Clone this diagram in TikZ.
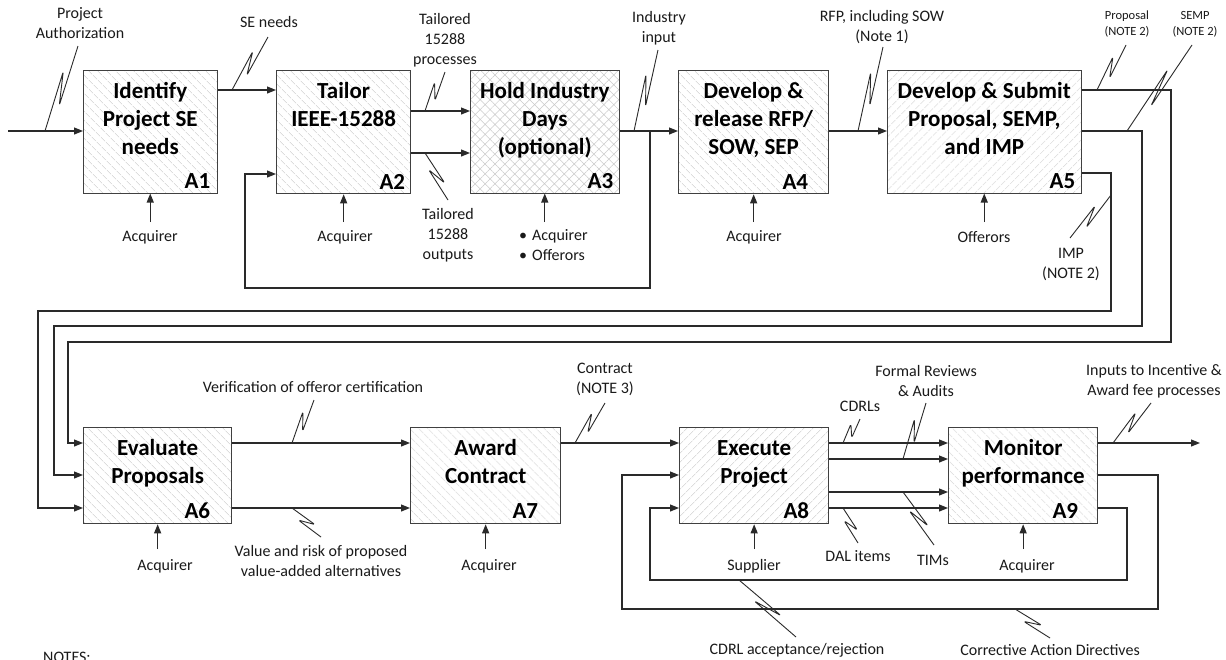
\documentclass[tikz,border=0pt]{standalone}
\usepackage{fontspec}
\setmainfont{Carlito}
\usetikzlibrary{calc,patterns.meta,arrows.meta}
\definecolor{ln}{HTML}{2A2A2A}
\definecolor{bdr}{HTML}{404040}
\definecolor{htc}{HTML}{CACACA}
\definecolor{txt}{HTML}{1A1A1A}
\newcommand\ttlfont{\fontsize{23}{28}\selectfont\bfseries}
\newcommand\lblfont{\fontsize{16}{20}\selectfont}
\newcommand\smlfont{\fontsize{12.5}{16}\selectfont}
\newcommand\leader[2]{\draw[ldr] (#1) -- ($(#1)!0.68!(#2)!4.5pt!90:(#2)$) -- ($(#1)!0.32!(#2)!4pt!-90:(#2)$) -- (#2);}
\tikzset{
 box/.style={draw=bdr, line width=1.3pt, inner sep=0pt, anchor=north west},
 hbs/.style={pattern={Lines[angle=-45,distance=6.5pt,line width=0.5pt]}, pattern color=htc},
 hfs/.style={pattern={Lines[angle=45,distance=6.5pt,line width=0.5pt]}, pattern color=htc},
 hx/.style={pattern={Hatch[angle=45,distance=7pt,line width=0.5pt]}, pattern color=htc},
 ttl/.style={font=\ttlfont, text=black, align=center, inner sep=0pt, anchor=north},
 num/.style={font=\ttlfont, text=black, inner sep=0pt, anchor=base east},
 lbl/.style={font=\lblfont, text=txt, align=center, inner sep=0pt},
 sml/.style={font=\smlfont, text=txt, align=center, inner sep=0pt},
 arr/.style={draw=ln, line width=1.1pt, -{Triangle[length=9pt,width=7pt]}},
 ldr/.style={draw=ln, line width=0.9pt, line join=round, rounded corners=1.5pt},
}
\begin{document}
\begin{tikzpicture}[x=1pt,y=-1pt]
\useasboundingbox[fill=white] (0,0) rectangle (1226,659);
% ---------- boxes
\node[box,hbs,minimum width=134pt,minimum height=123pt] (A1) at (83,70) {};
\node[box,hbs,minimum width=134pt,minimum height=123pt] (A2) at (276,70) {};
\node[box,hx, minimum width=149pt,minimum height=123pt] (A3) at (470,70) {};
\node[box,hbs,minimum width=150pt,minimum height=123pt] (A4) at (678,70) {};
\node[box,hfs,minimum width=194pt,minimum height=123pt] (A5) at (887,70) {};
\node[box,hbs,minimum width=148pt,minimum height=96pt] (A6) at (83,427) {};
\node[box,hbs,minimum width=150pt,minimum height=96pt] (A7) at (410,427) {};
\node[box,hfs,minimum width=149pt,minimum height=96pt] (A8) at (679,427) {};
\node[box,hbs,minimum width=149pt,minimum height=96pt] (A9) at (948,427) {};
% ---------- titles
\node[ttl] (t1) at ($(A1.north)+(0,8.4)$) {\strut Identify\\Project SE\\needs};
\node[ttl] (t2) at ($(A2.north)+(0,8.4)$) {\strut Tailor\\IEEE-15288};
\node[ttl] (t3) at ($(A3.north)+(0,8.4)$) {\strut Hold Industry\\Days\\(optional)};
\node[ttl] (t4) at ($(A4.north)+(0,8.4)$) {\strut Develop \&\\release RFP/\\SOW, SEP};
\node[ttl] (t5) at ($(A5.north)+(0,8.4)$) {\strut Develop \& Submit\\Proposal, SEMP,\\and IMP};
\node[ttl] (t6) at ($(A6.north)+(0,8.4)$) {\strut Evaluate\\Proposals};
\node[ttl] (t7) at ($(A7.north)+(0,8.4)$) {\strut Award\\Contract};
\node[ttl] (t8) at ($(A8.north)+(0,8.4)$) {\strut Execute\\Project};
\node[ttl] (t9) at ($(A9.north)+(0,8.4)$) {\strut Monitor\\performance};
% ---------- numbers
\node[num] (n1) at ($(A1.south east)+(-7,-5)$) {A1};
\node[num] (n2) at ($(A2.south east)+(-6,-5)$) {A2};
\node[num] (n3) at ($(A3.south east)+(-6,-5)$) {A3};
\node[num] (n4) at ($(A4.south east)+(-21,-5)$) {A4};
\node[num] (n5) at ($(A5.south east)+(-6,-5)$) {A5};
\node[num] (n6) at ($(A6.south east)+(-22,-6)$) {A6};
\node[num] (n7) at ($(A7.south east)+(-23,-6)$) {A7};
\node[num] (n8) at ($(A8.south east)+(-20,-6)$) {A8};
\node[num] (n9) at ($(A9.south east)+(-20,-6)$) {A9};
% ---------- mechanisms
\node[lbl] (c1) at (150,237) {Acquirer};
\node[lbl] (c2) at (345,237) {Acquirer};
\node[lbl,align=left,anchor=west] (c3) at (519,245) {\textbullet\hspace{5pt}Acquirer\\\textbullet\hspace{5pt}Offerors};
\node[lbl] (c4) at (754,237) {Acquirer};
\node[lbl] (c5) at (984,237) {Offerors};
\node[lbl] (c6) at (165,566) {Acquirer};
\node[lbl] (c7) at (489,566) {Acquirer};
\node[lbl] (c8) at (754,566) {Supplier};
\node[lbl] (c9) at (1027,566) {Acquirer};
\draw[arr] (A1.south |- 0,222) -- (A1.south);
\draw[arr] (A2.south |- 0,222) -- (A2.south);
\draw[arr] (A3.south |- 0,222) -- (A3.south);
\draw[arr] (A4.south |- 0,222) -- (A4.south);
\draw[arr] (A5.south |- 0,222) -- (A5.south);
\draw[arr] (A6.south |- 0,549) -- (A6.south);
\draw[arr] (A7.south |- 0,549) -- (A7.south);
\draw[arr] (A8.south |- 0,549) -- (A8.south);
\draw[arr] (A9.south |- 0,549) -- (A9.south);
% ---------- flows, top row
\coordinate (in0) at (8,131);
\draw[arr] (in0) -- (A1.west |- in0);
\draw[arr] (A1.east |- 0,90) -- (A2.west |- 0,90);
\draw[arr] (A2.east |- 0,111) -- (A3.west |- 0,111);
\draw[arr] (A2.east |- 0,153) -- (A3.west |- 0,153);
\draw[arr] (A3.east |- 0,131) -- (A4.west |- 0,131);
\coordinate (fbA) at (650,131);
\coordinate (fbB) at (650,288);
\coordinate (fbC) at (245,288);
\coordinate (fbD) at (245,174);
\draw[arr] (fbA) -- (fbB) -- (fbC) -- (fbD) -- (A2.west |- fbD);
\draw[arr] (A4.east |- 0,131) -- (A5.west |- 0,131);
\draw[arr] (A5.east |- 0,90) -| (1171,342) -| (68,443) -- (A6.west |- 0,443);
\draw[arr] (A5.east |- 0,131) -| (1142,326) -| (54,475) -- (A6.west |- 0,475);
\draw[arr] (A5.east |- 0,173) -| (1111,311) -| (38,508) -- (A6.west |- 0,508);
% ---------- flows, bottom row
\draw[arr] (A6.east |- 0,443) -- (A7.west |- 0,443);
\draw[arr] (A6.east |- 0,508) -- (A7.west |- 0,508);
\draw[arr] (A7.east |- 0,443) -- (A8.west |- 0,443);
\draw[arr] (A8.east |- 0,443) -- (A9.west |- 0,443);
\draw[arr] (A8.east |- 0,459) -- (A9.west |- 0,459);
\draw[arr] (A8.east |- 0,492) -- (A9.west |- 0,492);
\draw[arr] (A8.east |- 0,508) -- (A9.west |- 0,508);
\coordinate (out9) at (1200,443);
\draw[arr] (A9.east |- out9) -- (out9);
\draw[arr] (A9.east |- 0,475) -| (1158,609) -| (622,475) -- (A8.west |- 0,475);
\draw[arr] (A9.east |- 0,508) -| (1127,580) -| (650,508) -- (A8.west |- 0,508);
% ---------- labels
\node[lbl] (L1) at (80,23) {Project\\Authorization};
\node[lbl] (L2) at (269,22) {SE needs};
\node[lbl] (L3) at (445,40) {Tailored\\15288\\processes};
\node[lbl] (L4) at (448,235) {Tailored\\15288\\outputs};
\node[lbl] (L5) at (659,28) {Industry\\input};
\node[lbl] (L6) at (882,27) {RFP, including SOW\\(Note 1)};
\node[sml] (L7) at (1127,24) {Proposal\\(NOTE 2)};
\node[sml] (L8) at (1195,24) {SEMP\\(NOTE 2)};
\node[lbl] (L9) at (1071,264) {IMP\\(NOTE 2)};
\node[lbl] (L10) at (313,387) {Verification of offeror certification};
\node[lbl] (L11) at (321,561) {Value and risk of proposed\\value-added alternatives};
\node[lbl] (L12) at (605,379) {Contract\\(NOTE 3)};
\node[lbl] (L13) at (860,406) {CDRLs};
\node[lbl] (L14) at (926,381) {Formal Reviews\\\& Audits};
\node[lbl] (L15) at (858,556) {DAL items};
\node[lbl] (L16) at (933,560) {TIMs};
\node[lbl] (L17) at (1154,381) {Inputs to Incentive \&\\Award fee processes};
\node[lbl] (L18) at (797,650) {CDRL acceptance/rejection};
\node[lbl] (L19) at (1050,650) {Corrective Action Directives};
\node[lbl,anchor=base west] (notes) at (43,662) {NOTES:};
% ---------- leaders
\coordinate (s1) at (45,131);   \coordinate (e1) at (78,46);
\coordinate (s2) at (232,90);   \coordinate (e2) at (268,37);
\coordinate (s3) at (425,111);  \coordinate (e3) at (445,72);
\coordinate (s4) at (425,153);  \coordinate (e4) at (448,200);
\coordinate (s5) at (634,131);  \coordinate (e5) at (658,50);
\coordinate (s6) at (858,131);  \coordinate (e6) at (883,47);
\coordinate (s7) at (1097,90);  \coordinate (e7) at (1126,45);
\coordinate (s8) at (1127,131); \coordinate (e8) at (1192,45);
\coordinate (s9) at (1111,195); \coordinate (e9) at (1070,238);
\coordinate (s10) at (292,443); \coordinate (e10) at (314,400);
\coordinate (s11) at (292,508); \coordinate (e11) at (321,537);
\coordinate (s12) at (575,443); \coordinate (e12) at (605,403);
\coordinate (s13) at (843,443); \coordinate (e13) at (860,419);
\coordinate (s14) at (903,459); \coordinate (e14) at (926,403);
\coordinate (s15) at (843,508); \coordinate (e15) at (858,543);
\coordinate (s16) at (903,492); \coordinate (e16) at (934,545);
\coordinate (s17) at (1113,443); \coordinate (e17) at (1151,403);
\coordinate (s18) at (739,580); \coordinate (e18) at (796,637);
\coordinate (s19) at (1015,609); \coordinate (e19) at (1050,638);
\foreach \i in {1,...,19}{\leader{s\i}{e\i}}
\end{tikzpicture}
\end{document}
